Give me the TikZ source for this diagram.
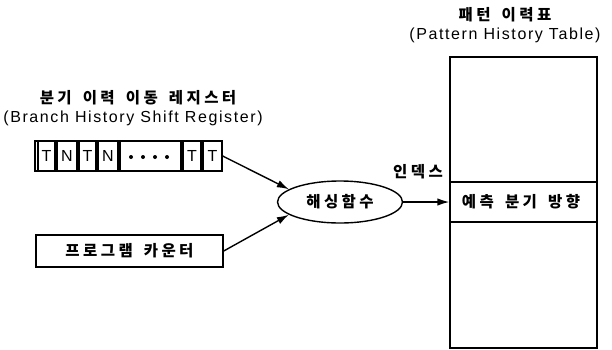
\documentclass[tikz,border=0pt]{standalone}
\usepackage{fontspec}
\setmainfont{Liberation Sans}[LetterSpace=10]
\newfontfamily\kr{Noto Sans CJK KR}[LetterSpace=22,WordSpace=1.6]
\usetikzlibrary{shapes.geometric,arrows.meta}

\begin{document}
\begin{tikzpicture}[x=1pt,y=-1pt,line width=1.4pt,
  box/.style={draw,rectangle,inner sep=0pt},
  krtext/.style={font=\kr\bfseries\fontsize{15.5}{17}\selectfont},
  entext/.style={font=\fontsize{16}{18}\selectfont},
  cell/.style={draw,line width=1.1pt},
  dot/.style={fill,circle,inner sep=0pt,minimum size=4pt},
  arr/.style={-{Latex[length=12pt,width=7.5pt]}}]
\useasboundingbox (0,0) rectangle (612,349);

% branch history shift register
\node[krtext] (bhsrKo) at (138,98) {분기 이력 이동 레지스터};
\node[entext] (bhsrEn) at (133,118) {(Branch History Shift Register)};
\node[box,minimum width=187pt,minimum height=30pt] (reg) at (128.5,156) {};
\draw[cell] (38,141) rectangle (55,171);
\draw[cell] (57,141) rectangle (77,171);
\draw[cell] (79,141) rectangle (96,171);
\draw[cell] (98,141) rectangle (118,171);
\draw[cell] (120,141) rectangle (181,171);
\draw[cell] (183,141) rectangle (201,171);
\draw[cell] (203,141) rectangle (222,171);
\node[entext] (b1) at (46.5,156) {T};
\node[entext] (b2) at (67,156) {N};
\node[entext] (b3) at (87.5,156) {T};
\node[entext] (b4) at (108,156) {N};
\node[dot] (d1) at (131,157) {};
\node[dot] (d2) at (143,157) {};
\node[dot] (d3) at (155,157) {};
\node[dot] (d4) at (167,157) {};
\node[entext] (b5) at (192,156) {T};
\node[entext] (b6) at (212.5,156) {T};

% program counter
\node[box,minimum width=187pt,minimum height=32pt,krtext] (pc) at (129.5,251) {프로그램 카운터};

% hashing function
\node[draw,ellipse,minimum width=125pt,minimum height=42pt,inner sep=0pt,krtext] (hash) at (340,202) {해싱함수};

% pattern history table with its highlighted entry
\node[krtext] (phtKo) at (505,15) {패턴 이력표};
\node[entext] (phtEn) at (505,35) {(Pattern History Table)};
\node[box,minimum width=147pt,minimum height=291pt] (pht) at (523.5,202.5) {};
\node[box,minimum width=147pt,minimum height=40pt] (row) at (523.5,202) {};
\node[krtext] (rowText) at (521,202) {예측 분기 방향};
\node[krtext] (idx) at (418,172) {인덱스};

% connectors
\draw[arr] (reg.east) -- (hash.166);
\draw[arr] (pc.east) -- (hash.194);
\draw[arr] (hash.east) -- (row.west);
\end{tikzpicture}
\end{document}
